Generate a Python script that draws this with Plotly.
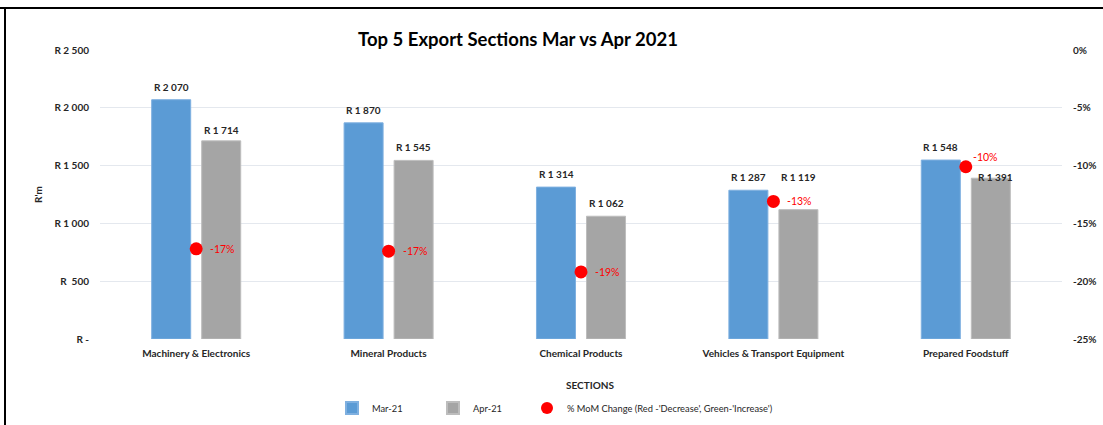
import plotly.graph_objects as go

categories = ["Machinery & Electronics", "Mineral Products", "Chemical Products",
              "Vehicles & Transport Equipment", "Prepared Foodstuff"]
mar21 = [2070, 1870, 1314, 1287, 1548]
apr21 = [1714, 1545, 1062, 1119, 1391]
mom_pct = [-17.2, -17.4, -19.2, -13.1, -10.1]

left_ticks = [0, 500, 1000, 1500, 2000, 2500]
left_ticktext = ["R -", "R  500", "R 1 000", "R 1 500", "R 2 000", "R 2 500"]
right_ticks = [-25, -20, -15, -10, -5, 0]
right_ticktext = ["-25%", "-20%", "-15%", "-10%", "-5%", "0%"]

# label placement tweaks (pixels), as in the reference
mar_label_dy = [13, 13, 13, 13, 13]
apr_label_dy = [11, 13, 13, 33, 1]
apr_label_dx = [0, 0, 0, 0, 5]
pct_label_dx = [12, 12, 12, 12, 5]
pct_label_dy = [0, 0, 0, 0, 10]


def rand(v):
    return "R " + f"{v:,}".replace(",", " ")


FONT = "Lato"
W, H = 1103, 425
L, R, T, B = 100, 41, 50, 86
pw, ph = W - L - R, H - T - B


def px_x(x):
    return (x - L) / pw


def px_y(y):
    return (H - B - y) / ph


fig = go.Figure()
fig.add_trace(go.Bar(
    x=categories, y=mar21, name="Mar-21", legend="legend",
    marker=dict(color="#5b9bd5", line=dict(color="#7fb0e0", width=1)),
))
fig.add_trace(go.Bar(
    x=categories, y=apr21, name="Apr-21", legend="legend2",
    marker=dict(color="#a5a5a5", line=dict(color="#bdbdbd", width=1)),
))
fig.add_trace(go.Scatter(
    x=categories, y=mom_pct, yaxis="y2", mode="markers", legend="legend3",
    name="% MoM Change (Red -'Decrease', Green-'Increase')",
    marker=dict(color="#ff0000", size=13),
    cliponaxis=False,
))

annotations = []
for i, c in enumerate(categories):
    annotations.append(dict(
        x=c, y=mar21[i], xref="x", yref="y", text=rand(mar21[i]),
        showarrow=False, xshift=-25, yshift=mar_label_dy[i], yanchor="middle",
        font=dict(family=FONT, size=10, color="#262626", weight="bold")))
    annotations.append(dict(
        x=c, y=apr21[i], xref="x", yref="y", text=rand(apr21[i]),
        showarrow=False, xshift=25 + apr_label_dx[i], yshift=apr_label_dy[i],
        yanchor="middle",
        font=dict(family=FONT, size=10, color="#262626", weight="bold")))
    annotations.append(dict(
        x=c, y=mom_pct[i], xref="x", yref="y2", text=f"{round(mom_pct[i])}%",
        showarrow=False, xanchor="left", yanchor="middle",
        xshift=pct_label_dx[i], yshift=pct_label_dy[i],
        font=dict(family=FONT, size=10.5, color="#ff0000")))

# x-axis title, placed where the reference has it
annotations.append(dict(
    x=px_x(590), y=px_y(385), xref="paper", yref="paper",
    text="<b>SECTIONS</b>", showarrow=False, xanchor="center", yanchor="middle",
    font=dict(family=FONT, size=10, color="#262626")))

legend_common = dict(orientation="h", xanchor="left", yanchor="middle",
                     xref="container", yref="container",
                     y=1 - 408 / H, bgcolor="rgba(0,0,0,0)",
                     font=dict(family=FONT, size=9.3, color="#262626"),
                     itemsizing="constant")

fig.update_layout(
    width=W, height=H,
    margin=dict(l=L, r=R, t=T, b=B, autoexpand=False),
    paper_bgcolor="white", plot_bgcolor="white",
    font=dict(family=FONT, size=10, color="#262626"),
    barmode="group", bargap=0.48, bargroupgap=0.22,
    showlegend=True,
    annotations=annotations,
    title=dict(text="<b>Top 5 Export Sections Mar vs Apr 2021</b>",
               x=px_x(518), xref="paper", xanchor="center",
               y=1 - 40 / H, yref="container", yanchor="middle",
               font=dict(family=FONT, size=18.5, color="#000000")),
    xaxis=dict(
        showgrid=False, showline=False, zeroline=False, automargin=False,
        ticklabelstandoff=7,
        tickfont=dict(family=FONT, size=10, color="#262626", weight="bold"),
    ),
    yaxis=dict(
        range=[0, 2500], tickvals=left_ticks, ticktext=left_ticktext,
        showgrid=True, gridcolor="#e4e8ee", gridwidth=1, zeroline=False,
        showline=False, ticklabelstandoff=10, automargin=False,
        tickfont=dict(family=FONT, size=10, color="#262626", weight="bold"),
        title=dict(text="<b>R'm</b>", standoff=10,
                   font=dict(family=FONT, size=10, color="#262626")),
    ),
    yaxis2=dict(
        range=[-25, 0], tickvals=right_ticks, ticktext=right_ticktext,
        overlaying="y", side="right", showgrid=False, zeroline=False,
        showline=False, ticklabelstandoff=10, automargin=False,
        tickfont=dict(family=FONT, size=10, color="#262626", weight="bold"),
    ),
    legend=dict(legend_common, x=332 / W),
    legend2=dict(legend_common, x=433 / W),
    legend3=dict(legend_common, x=527 / W),
    shapes=[
        dict(type="line", xref="paper", yref="paper",
             x0=px_x(0), x1=px_x(1103), y0=px_y(8), y1=px_y(8),
             line=dict(color="#000000", width=2)),
        dict(type="line", xref="paper", yref="paper",
             x0=px_x(5), x1=px_x(5), y0=px_y(8), y1=px_y(425),
             line=dict(color="#000000", width=2)),
    ],
)

fig.write_html(
    "out.html",
    config={"displayModeBar": False},
    post_script="document.documentElement.style.margin='0';"
                "document.body.style.margin='0';"
                "document.body.style.overflow='hidden';",
)
